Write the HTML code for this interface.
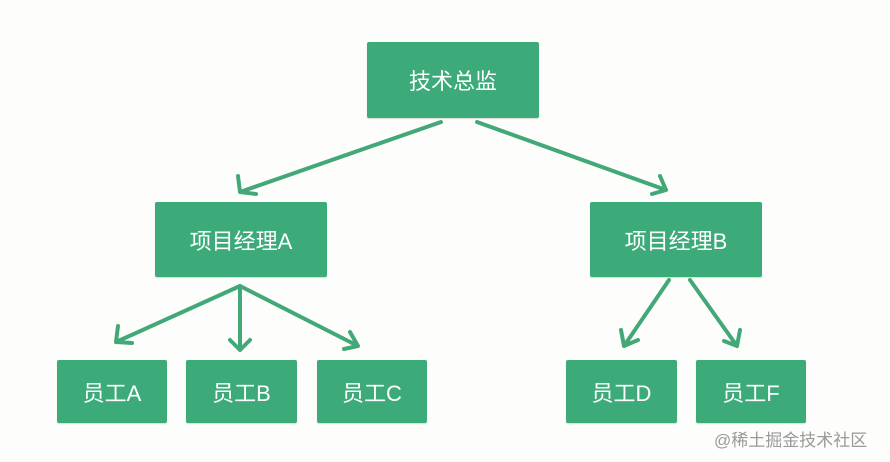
<!DOCTYPE html>
<html><head><meta charset="utf-8"><style>
html,body{margin:0;padding:0;background:#fdfdfb;}
body{width:890px;height:462px;position:relative;overflow:hidden;font-family:"Liberation Sans","Noto Sans CJK SC",sans-serif;}
.b{position:absolute;background:#3dab79;color:#fff;display:flex;align-items:center;justify-content:center;font-size:22px;border-radius:2px;box-shadow:0 1px 1px rgba(0,0,0,.15);}
.wm{position:absolute;left:714px;top:426px;font-size:17px;color:#9a9a9a;}
</style></head><body>
<svg width="890" height="462" style="position:absolute;left:0;top:0">
<g stroke="#43a878" stroke-width="4" fill="none" stroke-linecap="round" stroke-linejoin="round">
<path d="M441 122 L240 192 M238 176 L240 192 L256 194"/>
<path d="M477 122 L666 190 M652 194 L666 190 L660 176"/>
<path d="M240 286 L116 342 M118 326 L116 342 L132 343"/>
<path d="M240 288 L240 350 M230 340 L240 350 L250 340"/>
<path d="M240 286 L358 346 M350 332 L358 346 L344 349"/>
<path d="M669 280 L624 346 M621 330 L624 346 L638 340"/>
<path d="M690 280 L737 346 M724 341 L737 346 L740 330"/>
</g></svg>
<div class="b" style="left:367px;top:42px;width:172px;height:76px">技术总监</div>
<div class="b" style="left:155px;top:202px;width:172px;height:75px">项目经理A</div>
<div class="b" style="left:590px;top:202px;width:172px;height:75px">项目经理B</div>
<div class="b" style="left:57px;top:360px;width:110px;height:63px">员工A</div>
<div class="b" style="left:186px;top:360px;width:111px;height:63px">员工B</div>
<div class="b" style="left:317px;top:360px;width:110px;height:63px">员工C</div>
<div class="b" style="left:566px;top:360px;width:111px;height:63px">员工D</div>
<div class="b" style="left:696px;top:360px;width:110px;height:63px">员工F</div>
<div class="wm">@稀土掘金技术社区</div>
</body></html>
